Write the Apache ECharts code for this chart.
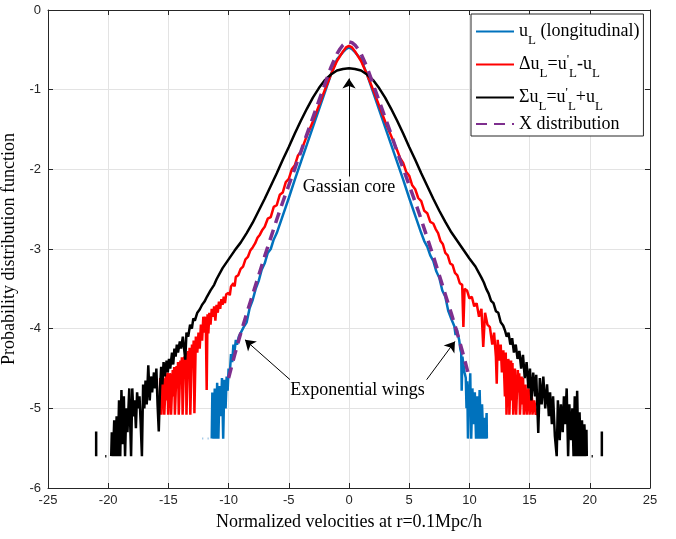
<!DOCTYPE html>
<html><head><meta charset="utf-8">
<script src="https://cdn.jsdelivr.net/npm/echarts@6/dist/echarts.min.js"></script>
<style>html,body{margin:0;padding:0;background:#fff}#c{width:676px;height:539px}</style>
</head><body><div id="c"></div>
<script>
// ---------------- data ----------------
const xTickValues = [-25,-20,-15,-10,-5,0,5,10,15,20,25];
const yTickValues = [-6,-5,-4,-3,-2,-1,0];

const blueTailL = [[-11.4,-5.38],[-11.35,-4.8],[-11.25,-5.38],[-11.15,-4.75],[-11.05,-5.38],[-10.95,-4.68],[-10.85,-5.38],[-10.75,-4.72],[-10.65,-5.1],[-10.55,-4.62],[-10.45,-5.38],[-10.35,-4.64],[-10.25,-5.0],[-10.16,-4.6],[-10.08,-4.78],[-10.0,-4.5],[-9.9,-4.56],[-9.8,-4.32],[-9.7,-4.42],[-9.6,-4.2],[-9.5,-4.28],[-9.4,-4.14],[-9.3,-4.2],[-9.15,-4.1],[-9.0,-4.08]];
const blueCore = [[-8.75,-3.98],[-8.5,-3.92],[-8.25,-3.74],[-8.0,-3.64],[-7.75,-3.5],[-7.5,-3.4],[-7.25,-3.26],[-7.0,-3.18],[-6.75,-3.05],[-6.5,-3.0],[-6.25,-2.88],[-6.0,-2.8],[-5.5,-2.58],[-5.0,-2.36],[-4.5,-2.13],[-4.0,-1.91],[-3.5,-1.69],[-3.0,-1.47],[-2.5,-1.25],[-2.0,-1.03],[-1.5,-0.81],[-1.0,-0.62],[-0.5,-0.53],[-0.25,-0.49],[0,-0.47],[0.25,-0.49],[0.5,-0.53],[1.0,-0.62],[1.5,-0.81],[2.0,-1.03],[2.5,-1.25],[3.0,-1.47],[3.5,-1.69],[4.0,-1.91],[4.5,-2.13],[5.0,-2.36],[5.5,-2.58],[6.0,-2.8],[6.25,-2.9],[6.5,-2.97],[6.75,-3.08],[7.0,-3.15],[7.25,-3.28],[7.5,-3.36],[7.75,-3.52],[8.0,-3.6],[8.25,-3.78],[8.5,-3.88],[8.75,-3.97]];
const blueTailR = [[8.85,-4.08],[8.95,-4.0],[9.05,-4.08],[9.15,-4.14],[9.25,-4.26],[9.32,-4.3],[9.36,-4.78],[9.42,-4.35],[9.5,-4.45],[9.6,-4.55],[9.7,-4.62],[9.76,-5.0],[9.82,-4.66],[9.88,-5.38],[9.96,-4.7],[10.02,-4.8],[10.07,-4.56],[10.15,-5.38],[10.25,-4.75],[10.35,-5.2],[10.45,-4.8],[10.55,-5.38],[10.65,-4.85],[10.75,-5.38],[10.85,-4.77],[10.95,-5.38],[11.05,-4.95],[11.15,-5.38],[11.25,-5.12],[11.35,-5.38],[11.43,-5.06],[11.45,-5.38]];
const blueDots1 = [[-12.2,-5.38],[-12.1,-5.38]];
const blueDots2 = [[-11.75,-5.38],[-11.65,-5.38]];

const redTailL = [[-15.72,-5.08],[-15.68,-4.62],[-15.62,-4.6],[-15.58,-5.08],[-15.48,-5.08],[-15.44,-4.62],[-15.38,-4.66],[-15.34,-5.08],[-15.24,-5.08],[-15.2,-4.58],[-15.14,-4.9],[-15.08,-4.55],[-15.02,-5.08],[-14.92,-5.08],[-14.88,-4.56],[-14.82,-4.6],[-14.78,-5.08],[-14.68,-5.08],[-14.64,-4.52],[-14.58,-4.85],[-14.52,-4.48],[-14.46,-5.08],[-14.36,-5.08],[-14.32,-4.47],[-14.26,-4.75],[-14.2,-4.42],[-14.14,-5.08],[-14.04,-5.08],[-14.0,-4.4],[-13.94,-4.6],[-13.88,-4.36],[-13.82,-5.08],[-13.72,-5.08],[-13.68,-4.35],[-13.6,-4.5],[-13.54,-4.3],[-13.5,-5.08],[-13.4,-5.08],[-13.36,-4.28],[-13.3,-4.55],[-13.24,-4.24],[-13.18,-5.08],[-13.08,-5.08],[-13.04,-4.2],[-12.98,-4.45],[-12.9,-4.15],[-12.84,-5.06],[-12.76,-5.06],[-12.72,-4.1],[-12.6,-4.3],[-12.5,-4.05],[-12.4,-4.25],[-12.3,-3.95],[-12.2,-4.15],[-12.1,-3.85],[-12.0,-4.05],[-11.9,-3.85],[-11.82,-4.77],[-11.75,-3.82],[-11.68,-4.06],[-11.6,-3.8],[-11.5,-3.95],[-11.4,-3.75],[-11.3,-3.85],[-11.2,-3.72],[-11.1,-3.9],[-11.0,-3.7],[-10.9,-3.8],[-10.8,-3.66],[-10.7,-3.75],[-10.6,-3.63],[-10.5,-3.7],[-10.4,-3.6],[-10.3,-3.68],[-10.2,-3.57],[-10.0,-3.55],[-9.9,-3.58],[-9.8,-3.47],[-9.6,-3.43],[-9.5,-3.47],[-9.4,-3.35],[-9.2,-3.33],[-9.0,-3.25],[-8.8,-3.22],[-8.6,-3.13],[-8.4,-3.1],[-8.2,-3.02],[-8.0,-2.98],[-7.8,-2.93],[-7.6,-2.86],[-7.4,-2.82],[-7.2,-2.76],[-7.0,-2.72]];
const redCore = [[-6.75,-2.62],[-6.5,-2.6],[-6.25,-2.47],[-6.0,-2.45],[-5.75,-2.32],[-5.5,-2.29],[-5.25,-2.16],[-5.0,-2.12],[-4.75,-2.0],[-4.5,-1.95],[-4.25,-1.83],[-4.0,-1.78],[-3.5,-1.58],[-3.0,-1.4],[-2.5,-1.2],[-2.0,-1.0],[-1.5,-0.81],[-1.0,-0.64],[-0.5,-0.52],[-0.25,-0.47],[0,-0.45],[0.25,-0.47],[0.5,-0.52],[1.0,-0.64],[1.5,-0.81],[2.0,-1.0],[2.5,-1.2],[3.0,-1.4],[3.5,-1.58],[4.0,-1.76],[4.25,-1.86],[4.5,-1.92],[4.75,-2.03],[5.0,-2.08],[5.25,-2.2],[5.5,-2.25],[5.75,-2.36],[6.0,-2.4],[6.25,-2.52],[6.5,-2.55],[6.75,-2.66]];
const redTailR = [[7.0,-2.68],[7.2,-2.75],[7.4,-2.8],[7.6,-2.9],[7.8,-2.94],[8.0,-3.05],[8.2,-3.08],[8.4,-3.18],[8.6,-3.2],[8.8,-3.3],[9.0,-3.33],[9.2,-3.43],[9.4,-3.45],[9.5,-3.98],[9.6,-3.5],[9.8,-3.52],[10.0,-3.62],[10.2,-3.6],[10.4,-3.72],[10.6,-3.68],[10.8,-3.85],[11.0,-3.75],[11.15,-4.23],[11.3,-3.8],[11.5,-3.95],[11.7,-3.98],[11.9,-4.2],[12.05,-4.05],[12.2,-4.35],[12.27,-4.69],[12.35,-4.14],[12.5,-4.4],[12.6,-4.2],[12.7,-4.55],[12.82,-4.27],[12.95,-4.85],[13.02,-4.3],[13.08,-5.08],[13.18,-5.08],[13.22,-4.38],[13.28,-4.42],[13.32,-5.08],[13.42,-5.08],[13.46,-4.4],[13.52,-4.9],[13.58,-4.43],[13.64,-5.08],[13.74,-5.08],[13.78,-4.5],[13.84,-4.52],[13.88,-5.08],[13.98,-5.08],[14.02,-4.52],[14.08,-4.8],[14.14,-4.56],[14.2,-5.08],[14.3,-5.08],[14.34,-4.6],[14.4,-4.95],[14.46,-4.62],[14.52,-5.08],[14.62,-5.08],[14.66,-4.7],[14.72,-4.72],[14.76,-5.08],[14.86,-5.08],[14.9,-4.75],[14.96,-4.8],[15.0,-5.08],[15.1,-5.08],[15.14,-4.82],[15.2,-4.88],[15.24,-5.08],[15.34,-5.08],[15.38,-4.9],[15.44,-4.95],[15.5,-5.08],[15.62,-5.08],[15.7,-5.0],[15.76,-5.08],[15.86,-5.08]];

const blackTailL = [[-19.75,-5.6],[-19.7,-5.3],[-19.6,-5.6],[-19.5,-5.15],[-19.4,-5.6],[-19.3,-5.1],[-19.2,-5.6],[-19.1,-4.9],[-19.0,-5.6],[-18.9,-4.77],[-18.8,-5.45],[-18.7,-4.85],[-18.6,-5.6],[-18.5,-5.0],[-18.4,-5.3],[-18.25,-4.75],[-18.1,-5.6],[-18.0,-4.75],[-17.9,-5.1],[-17.8,-4.9],[-17.7,-5.25],[-17.6,-4.8],[-17.5,-5.0],[-17.4,-4.85],[-17.3,-5.2],[-17.2,-5.6],[-17.1,-4.7],[-17.0,-5.0],[-16.9,-4.65],[-16.8,-4.95],[-16.67,-4.46],[-16.55,-4.9],[-16.45,-4.6],[-16.35,-4.8],[-16.2,-4.55],[-16.1,-4.75],[-16.0,-4.5],[-15.9,-4.95],[-15.8,-5.29],[-15.7,-4.77],[-15.6,-4.48],[-15.5,-4.7],[-15.4,-4.42],[-15.3,-4.6],[-15.15,-4.4],[-15.05,-4.55],[-14.95,-4.38],[-14.85,-4.5],[-14.7,-4.3],[-14.6,-4.45],[-14.5,-4.25],[-14.4,-4.35],[-14.3,-4.2],[-14.2,-4.3],[-14.05,-4.16],[-13.95,-4.25],[-13.8,-4.1],[-13.6,-4.39],[-13.5,-4.05],[-13.35,-4.1],[-13.2,-3.95],[-13.05,-4.0],[-12.93,-3.87],[-12.8,-3.9],[-12.6,-3.8],[-12.4,-3.76],[-12.2,-3.7],[-12.0,-3.66],[-11.8,-3.6],[-11.5,-3.52],[-11.2,-3.45],[-11.0,-3.38]];
const blackCore = [[-10.5,-3.24],[-10,-3.13],[-9.5,-3.02],[-9,-2.92],[-8.5,-2.8],[-8,-2.67],[-7.5,-2.52],[-7,-2.37],[-6.5,-2.21],[-6,-2.05],[-5.5,-1.88],[-5,-1.72],[-4.5,-1.55],[-4,-1.39],[-3.5,-1.24],[-3,-1.1],[-2.5,-0.98],[-2,-0.88],[-1.5,-0.81],[-1,-0.76],[-0.5,-0.74],[0,-0.73],[0.5,-0.74],[1,-0.76],[1.5,-0.81],[2,-0.88],[2.5,-0.98],[3,-1.1],[3.5,-1.24],[4,-1.39],[4.5,-1.55],[5,-1.72],[5.5,-1.88],[6,-2.05],[6.5,-2.21],[7,-2.37],[7.5,-2.52],[8,-2.66],[8.5,-2.79],[9,-2.9],[9.5,-3.01],[10,-3.12],[10.5,-3.22]];
const blackTailR = [[11.0,-3.36],[11.2,-3.42],[11.4,-3.5],[11.6,-3.56],[11.8,-3.65],[12.0,-3.68],[12.2,-3.78],[12.4,-3.8],[12.6,-3.92],[12.8,-3.96],[12.95,-4.02],[13.1,-4.1],[13.25,-4.05],[13.4,-4.2],[13.55,-4.12],[13.7,-4.3],[13.85,-4.2],[14.0,-4.38],[14.15,-4.28],[14.3,-4.5],[14.45,-4.33],[14.6,-4.62],[14.75,-4.42],[14.9,-4.75],[15.03,-4.5],[15.15,-4.9],[15.3,-4.55],[15.45,-4.85],[15.55,-4.58],[15.72,-5.31],[15.85,-4.62],[16.0,-4.95],[16.14,-4.6],[16.3,-5.0],[16.45,-4.7],[16.6,-5.1],[16.7,-4.8],[16.85,-5.2],[16.95,-4.85],[17.1,-5.35],[17.25,-5.6],[17.35,-4.9],[17.5,-5.4],[17.6,-4.95],[17.75,-5.3],[17.85,-4.85],[17.95,-5.2],[18.08,-4.75],[18.2,-5.6],[18.3,-4.95],[18.45,-5.4],[18.55,-5.0],[18.65,-5.6],[18.75,-4.85],[18.85,-5.6],[18.95,-4.78],[19.05,-5.6],[19.15,-5.05],[19.25,-5.6],[19.35,-5.15],[19.45,-5.6],[19.55,-5.2],[19.65,-5.6],[19.72,-5.27],[19.75,-5.6]];
const blackBitL1 = [[-21.0,-5.29],[-21.0,-5.6]];
const blackBitL2 = [[-20.25,-5.6],[-20.15,-5.6]];
const blackBitR1 = [[20.15,-5.6],[20.25,-5.6]];
const blackBitR2 = [[21.0,-5.29],[21.0,-5.6]];

const purpleData = [[-10,-4.62],[-9.5,-4.33],[-9,-4.06],[-8.5,-3.81],[-8,-3.57],[-7.5,-3.33],[-7,-3.09],[-6.5,-2.86],[-6,-2.63],[-5.5,-2.41],[-5,-2.2],[-4.5,-1.99],[-4,-1.78],[-3.5,-1.56],[-3,-1.35],[-2.5,-1.14],[-2,-0.93],[-1.5,-0.72],[-1,-0.55],[-0.75,-0.49],[-0.5,-0.44],[-0.25,-0.41],[0,-0.4],[0.25,-0.41],[0.5,-0.44],[0.75,-0.49],[1,-0.55],[1.5,-0.72],[2,-0.93],[2.5,-1.14],[3,-1.35],[3.5,-1.56],[4,-1.78],[4.5,-1.99],[5,-2.2],[5.5,-2.41],[6,-2.63],[6.5,-2.86],[7,-3.09],[7.5,-3.33],[8,-3.57],[8.5,-3.81],[9,-4.06],[9.5,-4.33],[10,-4.62]];

const seriesNames = ['uL','du','su','X'];
const legendLabels = {
  uL: '{n|u}{s|L}{n| (longitudinal)}',
  du: '{n|\u0394u}{s|L}{n|=u}{p|\'}{s|L}{n|-u}{s|L}',
  su: '{n|\u03A3u}{s|L}{n|=u}{p|\'}{s|L}{n|+u}{s|L}',
  X:  '{n|X distribution}'
};
const annotations = [
  {text:'Gassian core', at:[0,-2.23]},
  {text:'Exponential wings', at:[0.7,-4.77]}
];
const arrows = [
  [[0,-2.09],[0,-0.86]],
  [[-4.9,-4.64],[-8.64,-4.14]],
  [[6.45,-4.64],[8.8,-4.16]]
];

// ---------------- chart ----------------
const SERIF = '"Liberation Serif","Times New Roman",serif';
const SANS = '"Liberation Sans",Arial,Helvetica,sans-serif';
const AX = '#262626';

function lineSeries(name, data, color, width, extra){
  return Object.assign({
    name: name, type:'line', data: data, symbol:'none', showSymbol:false,
    lineStyle:{color:color, width:width}, itemStyle:{color:color},
    silent:true, emphasis:{disabled:true}, animation:false, clip:true
  }, extra||{});
}

const chart = echarts.init(document.getElementById('c'), null, {renderer:'canvas'});

const axisCommon = {
  type:'value',
  axisLine:{show:true, onZero:false, lineStyle:{color:AX, width:1}},
  axisTick:{show:true, inside:true, length:5, lineStyle:{color:AX, width:1}}
};

const option = {
  animation:false,
  backgroundColor:'#fff',
  grid:{left:48, right:26, top:10, bottom:51, containLabel:false, outerBoundsMode:'none'},
  xAxis:[
    Object.assign({}, axisCommon, {
      min:xTickValues[0], max:xTickValues[xTickValues.length-1], interval:5, position:'bottom',
      axisLabel:{color:AX, fontFamily:SANS, fontSize:13, margin:6},
      splitLine:{show:true, lineStyle:{color:'#e3e3e3', width:1}},
      name:'Normalized velocities at r=0.1Mpc/h', nameLocation:'middle', nameGap:25,
      nameTextStyle:{color:'#000', fontFamily:SERIF, fontSize:18}
    }),
    Object.assign({}, axisCommon, {
      min:xTickValues[0], max:xTickValues[xTickValues.length-1], interval:5, position:'top',
      axisLabel:{show:false}, splitLine:{show:false}
    })
  ],
  yAxis:[
    Object.assign({}, axisCommon, {
      min:yTickValues[0], max:yTickValues[yTickValues.length-1], interval:1, position:'left',
      axisLabel:{color:AX, fontFamily:SANS, fontSize:13, margin:7},
      splitLine:{show:true, lineStyle:{color:'#e3e3e3', width:1}},
      name:'Probability distribution function', nameLocation:'middle', nameGap:18,
      nameTextStyle:{color:'#000', fontFamily:SERIF, fontSize:18}
    }),
    Object.assign({}, axisCommon, {
      min:yTickValues[0], max:yTickValues[yTickValues.length-1], interval:1, position:'right',
      axisLabel:{show:false}, splitLine:{show:false}
    })
  ],
  legend:{
    data:seriesNames, orient:'vertical', left:471, top:14,
    padding:[2,4,3,4], itemGap:2, itemWidth:38, itemHeight:12,
    backgroundColor:'#fff', borderColor:AX, borderWidth:1, borderRadius:0,
    selectedMode:false,
    itemStyle:{opacity:0, borderWidth:0},
    formatter: function(name){ return legendLabels[name]; },
    textStyle:{
      rich:{
        n:{fontFamily:SERIF, fontSize:18, color:'#000', lineHeight:20},
        s:{fontFamily:SERIF, fontSize:13, color:'#000', lineHeight:13, padding:[18,0,0,0]},
        p:{fontFamily:SERIF, fontSize:13, color:'#000', lineHeight:13, padding:[0,0,10,0]}
      }
    }
  },
  series:[
    lineSeries('uL', blueTailL.concat(blueCore, blueTailR), '#0072BD', 2.5),
    lineSeries('uL_d1', blueDots1, '#9cc4e4', 2),
    lineSeries('uL_d2', blueDots2, '#9cc4e4', 2),
    lineSeries('du', redTailL.concat(redCore, redTailR), '#FF0000', 2.5),
    lineSeries('su', blackTailL.concat(blackCore, blackTailR), '#000000', 2.5, {
      markLine:{
        silent:true, animation:false,
        symbol:['none','arrow'], symbolSize:10,
        lineStyle:{color:'#000', width:1, type:'solid'},
        label:{show:false}, emphasis:{disabled:true},
        data: arrows.map(a => [{coord:a[0]},{coord:a[1]}])
      }
    }),
    lineSeries('su_b1', blackBitL1, '#000000', 2.5),
    lineSeries('su_b2', blackBitL2, '#000000', 2.5),
    lineSeries('su_b3', blackBitR1, '#000000', 2.5),
    lineSeries('su_b4', blackBitR2, '#000000', 2.5),
    lineSeries('X', purpleData, '#7E2F8E', 3.5, {lineStyle:{color:'#7E2F8E', width:3.5, type:[11,7]}})
  ]
};
chart.setOption(option);

const graphics = annotations.map(function(a){
  const p = chart.convertToPixel({xAxisIndex:0, yAxisIndex:0}, a.at);
  return {type:'text', x:p[0], y:p[1], z:100, silent:true,
    style:{text:a.text, fill:'#000', font:'18px ' + SERIF, align:'center', verticalAlign:'middle'}};
});
chart.setOption({graphic:graphics});
</script>
</body></html>
